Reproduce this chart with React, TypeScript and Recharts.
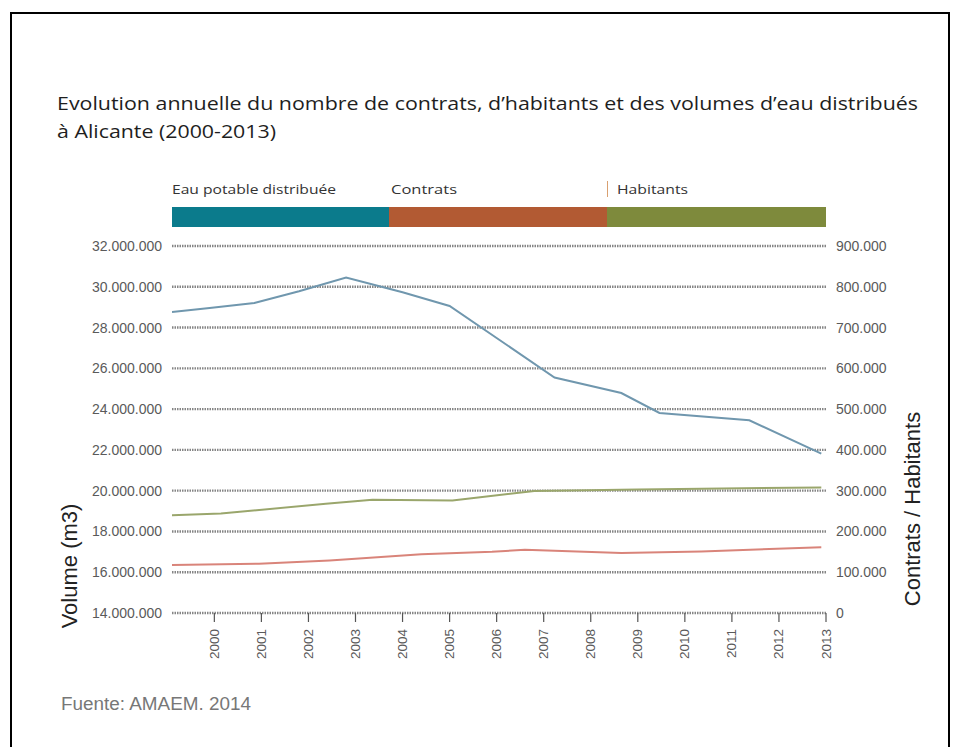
import React from 'react';
import { LineChart, Line, XAxis, YAxis, CartesianGrid } from 'recharts';

// Tick labels
const years = [2000, 2001, 2002, 2003, 2004, 2005, 2006, 2007, 2008, 2009, 2010, 2011, 2012, 2013];
const volumeTicks = [14000000, 16000000, 18000000, 20000000, 22000000, 24000000, 26000000, 28000000, 30000000, 32000000];
const countTicks = [0, 100000, 200000, 300000, 400000, 500000, 600000, 700000, 800000, 900000];

// Eau potable distribuée (m3) — vertices (x in years)
const volumeX = [1999.1, 1999.9, 2000.85, 2001.8, 2002.8, 2004.0, 2005.0, 2007.23, 2008.65, 2009.46, 2011.37, 2012.9];
const volumeM3 = [28760000, 28960000, 29200000, 29780000, 30450000, 29730000, 29060000, 25550000, 24790000, 23810000, 23450000, 21820000];

// Habitants
const habitantsX = [1999.1, 2000.14, 2002.37, 2003.36, 2005.06, 2006.8, 2009.0, 2012.9];
const habitantsN = [240000, 244000, 268000, 278000, 276000, 299000, 303000, 308000];

// Contrats
const contratsX = [1999.1, 2000.95, 2002.45, 2004.4, 2005.9, 2006.6, 2008.65, 2010.35, 2012.9];
const contratsN = [118000, 121000, 129000, 144000, 150000, 155000, 147000, 151000, 161000];

const legendItems = [
  { label: 'Eau potable distribuée', color: '#0b7b8c' },
  { label: 'Contrats', color: '#b25a33' },
  { label: 'Habitants', color: '#7e8a3c' },
];

const volumeData = volumeX.map((x, i) => ({ x, v: volumeM3[i] }));
const habitantsData = habitantsX.map((x, i) => ({ x, v: habitantsN[i] }));
const contratsData = contratsX.map((x, i) => ({ x, v: contratsN[i] }));

const fmt = (n: number) => String(n).replace(/\B(?=(\d{3})+(?!\d))/g, '.');

const YearTick = (props: any) => {
  const { x, y, payload } = props;
  return (
    <text
      x={x}
      y={y}
      transform={`rotate(-90, ${x}, ${y})`}
      textAnchor="end"
      dominantBaseline="central"
      fontSize={13.5}
      fontFamily="Liberation Sans"
      fill="#5a5a5a"
    >
      {payload.value}
    </text>
  );
};

export default function App() {
  return (
    <div style={{ position: 'absolute', left: 0, top: 0, width: 954, height: 747, background: '#fff', overflow: 'hidden' }}>
      <div
        style={{
          position: 'absolute',
          left: 10,
          top: 12,
          width: 940,
          height: 760,
          border: '2px solid #000',
          boxSizing: 'border-box',
        }}
      />
      {/* legend colour bars */}
      <div style={{ position: 'absolute', left: 172, top: 207, width: 217, height: 20, background: legendItems[0].color }} />
      <div style={{ position: 'absolute', left: 389, top: 207, width: 218, height: 20, background: legendItems[1].color }} />
      <div style={{ position: 'absolute', left: 607, top: 207, width: 219, height: 20, background: legendItems[2].color }} />
      <div style={{ position: 'absolute', left: 0, top: 0 }}>
        <LineChart width={954} height={747} margin={{ top: 246, right: 0, bottom: 94, left: 0 }}>
          <CartesianGrid
            xAxisId="yr"
            yAxisId="vol"
            vertical={false}
            stroke="#858585"
            strokeDasharray="1.5 1"
            strokeWidth={2.4}
          />
          <XAxis
            xAxisId="yr"
            dataKey="x"
            type="number"
            domain={[1999.1, 2013]}
            ticks={years}
            interval={0}
            allowDataOverflow
            height={40}
            axisLine={false}
            tickSize={9}
            tickMargin={7}
            tickLine={{ stroke: '#555', strokeWidth: 1.2 }}
            tick={(p: any) => <YearTick {...p} />}
          />
          <YAxis
            yAxisId="vol"
            orientation="left"
            width={172}
            domain={[14000000, 32000000]}
            ticks={volumeTicks}
            interval={0}
            tickFormatter={fmt}
            axisLine={false}
            tickLine={false}
            tickSize={0}
            tickMargin={10}
            tick={{ fill: '#5a5a5a', fontSize: 14, fontFamily: 'Liberation Sans' }}
          />
          <YAxis
            yAxisId="cnt"
            orientation="right"
            width={128}
            domain={[0, 900000]}
            ticks={countTicks}
            interval={0}
            tickFormatter={fmt}
            axisLine={false}
            tickLine={false}
            tickSize={0}
            tickMargin={10}
            tick={{ fill: '#5a5a5a', fontSize: 14, fontFamily: 'Liberation Sans', textAnchor: 'start' }}
          />
          <Line
            xAxisId="yr"
            yAxisId="vol"
            data={volumeData}
            dataKey="v"
            type="linear"
            stroke="#7097ae"
            strokeWidth={2}
            dot={false}
            isAnimationActive={false}
          />
          <Line
            xAxisId="yr"
            yAxisId="cnt"
            data={habitantsData}
            dataKey="v"
            type="linear"
            stroke="#9aa66c"
            strokeWidth={2}
            dot={false}
            isAnimationActive={false}
          />
          <Line
            xAxisId="yr"
            yAxisId="cnt"
            data={contratsData}
            dataKey="v"
            type="linear"
            stroke="#d9847a"
            strokeWidth={2}
            dot={false}
            isAnimationActive={false}
          />
        </LineChart>
      </div>
      <svg width={954} height={747} style={{ position: 'absolute', left: 0, top: 0, pointerEvents: 'none' }}>
        <text x={57} y={110} fontSize={18} fontFamily="Open Sans" fill="#1e1e1e" textLength={861} lengthAdjust="spacingAndGlyphs">
          Evolution annuelle du nombre de contrats, d’habitants et des volumes d’eau distribués
        </text>
        <text x={57} y={138} fontSize={18} fontFamily="Open Sans" fill="#1e1e1e" textLength={219} lengthAdjust="spacingAndGlyphs">
          à Alicante (2000-2013)
        </text>
        <text x={172} y={194} fontSize={13.5} fontFamily="Open Sans" fill="#333" textLength={164} lengthAdjust="spacingAndGlyphs">
          {legendItems[0].label}
        </text>
        <text x={391} y={194} fontSize={13.5} fontFamily="Open Sans" fill="#333" textLength={66} lengthAdjust="spacingAndGlyphs">
          {legendItems[1].label}
        </text>
        <text x={617} y={194} fontSize={13.5} fontFamily="Open Sans" fill="#333" textLength={71} lengthAdjust="spacingAndGlyphs">
          {legendItems[2].label}
        </text>
        <line x1={607.5} y1={181} x2={607.5} y2={197} stroke="#d9a070" strokeWidth={1} />
        <text
          x={69}
          y={566}
          transform="rotate(-90, 69, 566)"
          textAnchor="middle"
          dominantBaseline="central"
          fontSize={22}
          fontFamily="Liberation Sans"
          fill="#222"
        >
          Volume (m3)
        </text>
        <text
          x={912}
          y={509}
          transform="rotate(-90, 912, 509)"
          textAnchor="middle"
          dominantBaseline="central"
          fontSize={22}
          fontFamily="Liberation Sans"
          fill="#222"
        >
          Contrats / Habitants
        </text>
        <text x={61} y={710} fontSize={18} fontFamily="Liberation Sans" fill="#777" textLength={190} lengthAdjust="spacingAndGlyphs">
          Fuente: AMAEM. 2014
        </text>
      </svg>
    </div>
  );
}
